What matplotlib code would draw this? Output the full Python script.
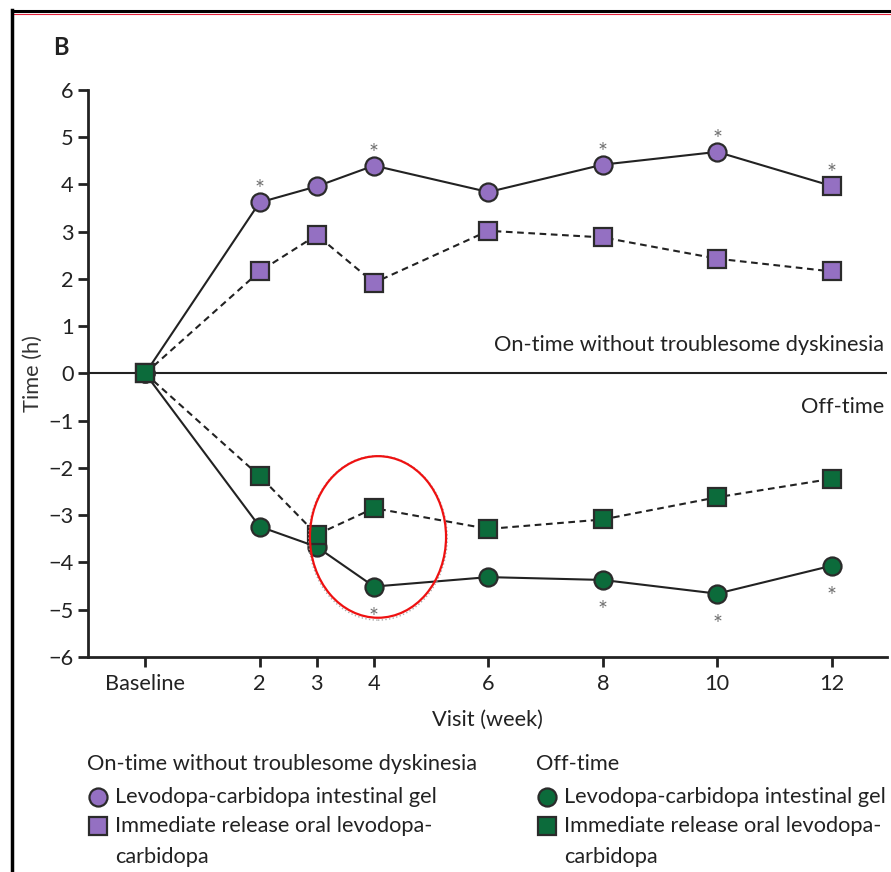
import matplotlib
matplotlib.use("Agg")
import matplotlib.pyplot as plt
from matplotlib.lines import Line2D
from matplotlib.patches import Ellipse

plt.rcParams['font.family'] = ['Lato', 'DejaVu Sans']

# semanas de visita (0 = Baseline)
semanas = [0, 2, 3, 4, 6, 8, 10, 12]
etiquetas_x = ["Baseline", "2", "3", "4", "6", "8", "10", "12"]

# tiempo "on" sin discinesia problematica (h)
on_gel = [0, 3.62, 3.96, 4.40, 3.84, 4.42, 4.69, 3.97]
on_oral = [0, 2.16, 2.93, 1.92, 3.02, 2.88, 2.43, 2.16]
# tiempo "off" (h)
off_gel = [0, -3.24, -3.67, -4.51, -4.31, -4.37, -4.66, -4.07]
off_oral = [0, -2.17, -3.41, -2.85, -3.29, -3.09, -2.62, -2.23]

# semanas con diferencia significativa
sig_on = [2, 4, 8, 10, 12]
sig_off = [4, 8, 10, 12]

morado = "#9470C2"
verde = "#0C6B3B"
borde = "#2b2b2b"
gris = "#707070"
fs = 15.7

fig = plt.figure(figsize=(8.91, 8.72), dpi=100)
ax = fig.add_axes([0.0988, 0.2466, 0.8967, 0.6502])

def serie(y, color, marcador, estilo, cada=None):
    ax.plot(semanas, y, color="#222222", lw=1.5, ls=estilo, marker=marcador,
            ms=13, mfc=color, mec=borde, mew=1.6, markevery=cada,
            dashes=(3.2, 2.2) if estilo == "--" else (None, None), zorder=3)

ax.axhline(0, color="#222222", lw=1.5, zorder=1)
# el ultimo punto del gel aparece como cuadrado en la figura original
serie(on_gel, morado, "o", "-", cada=list(range(len(semanas) - 1)))
ax.plot(semanas[-1:], on_gel[-1:], ls="none", marker="s", ms=13,
        mfc=morado, mec=borde, mew=1.6, zorder=3)
serie(on_oral, morado, "s", "--")
serie(off_gel, verde, "o", "-")
serie(off_oral, verde, "s", "--")

for s in sig_on:
    i = semanas.index(s)
    ax.annotate("*", (s, on_gel[i]), xytext=(0, 9), textcoords="offset points",
                ha="center", va="center", color=gris, fontsize=17)
for s in sig_off:
    i = semanas.index(s)
    ax.annotate("*", (s, off_gel[i]), xytext=(0, -22), textcoords="offset points",
                ha="center", va="center", color=gris, fontsize=17)

ax.text(12.92, 0.6, "On-time without troublesome dyskinesia", ha="right", va="center",
        fontsize=fs, color="#222222")
ax.text(12.92, -0.7, "Off-time", ha="right", va="center", fontsize=fs, color="#222222")

# elipse roja de anotacion
ax.add_patch(Ellipse((4.07, -3.48), 2.42, 3.48, fill=False, ec="#aaaaaa", lw=1.0, ls=":", zorder=5))
ax.add_patch(Ellipse((4.07, -3.46), 2.38, 3.42, fill=False, ec="#ee1111", lw=1.6, zorder=6))

ax.set_xlim(-1, 12.97)
ax.set_ylim(-6, 6)
ax.set_xticks(semanas)
ax.set_xticklabels(etiquetas_x)
ax.set_yticks(range(-6, 7))
ax.set_yticklabels([str(v).replace("-", "\u2212") for v in range(-6, 7)])
ax.tick_params(labelsize=fs, colors="#222222", width=2, length=7)
ax.tick_params(axis="x", pad=5)
ax.spines["top"].set_visible(False)
ax.spines["right"].set_visible(False)
ax.spines["left"].set_linewidth(2)
ax.spines["bottom"].set_linewidth(2)
ax.spines["left"].set_color("#222222")
ax.spines["bottom"].set_color("#222222")
ax.set_xlabel("Visit (week)", fontsize=fs, color="#222222", labelpad=12)
ax.set_ylabel("Time (h)", fontsize=fs, color="#333333", labelpad=4)

fig.text(0.060, 0.945, "B", fontsize=17, fontweight="bold", color="#222222", va="center")

# leyenda manual
def leyenda(x, titulo, color):
    fig.text(x, 0.124, titulo, fontsize=fs, color="#222222", va="center")
    fig.add_artist(Line2D([x + 0.012], [0.086], marker="o", ms=13, mfc=color, mec=borde,
                          mew=1.6, ls="none", transform=fig.transFigure))
    fig.text(x + 0.031, 0.086, "Levodopa-carbidopa intestinal gel", fontsize=fs,
             color="#222222", va="center")
    fig.add_artist(Line2D([x + 0.012], [0.053], marker="s", ms=13, mfc=color, mec=borde,
                          mew=1.6, ls="none", transform=fig.transFigure))
    fig.text(x + 0.031, 0.053, "Immediate release oral levodopa-", fontsize=fs,
             color="#222222", va="center")
    fig.text(x + 0.031, 0.017, "carbidopa", fontsize=fs, color="#222222", va="center")

leyenda(0.098, "On-time without troublesome dyskinesia", morado)
leyenda(0.602, "Off-time", verde)

# marco
fig.add_artist(Line2D([0.0135, 1], [0.9875, 0.9875], color="black", lw=2.2, transform=fig.transFigure))
fig.add_artist(Line2D([0.0135, 1], [0.9845, 0.9845], color="#e0203a", lw=0.8, transform=fig.transFigure))
fig.add_artist(Line2D([0.0135, 0.0135], [0, 0.9885], color="black", lw=2.5, transform=fig.transFigure))

fig.savefig("out.png", dpi=100)
